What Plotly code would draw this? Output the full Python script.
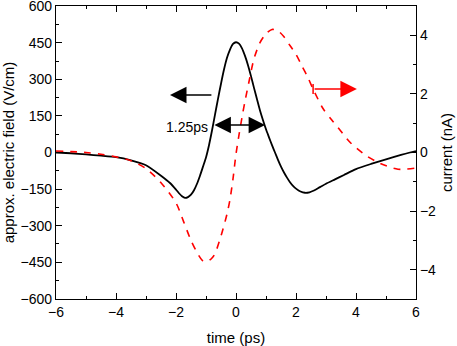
import plotly.graph_objects as go

# Electric field (black, left axis)
t_field = [-6.0, -5.5, -5.0, -4.5, -4.0, -3.5, -3.0, -2.5, -2.2, -2.0, -1.9, -1.8, -1.7, -1.6,
           -1.5, -1.4, -1.3, -1.2, -1.1, -1.0, -0.9, -0.8, -0.7, -0.6, -0.5, -0.4, -0.3, -0.2,
           -0.1, 0.0, 0.1, 0.2, 0.3, 0.4, 0.5, 0.6, 0.7, 0.8, 0.9, 1.0, 1.1, 1.2, 1.3, 1.4,
           1.5, 1.6, 1.7, 1.8, 1.9, 2.0, 2.15, 2.3, 2.45, 2.6, 2.8, 3.0, 3.3, 3.6, 4.0, 4.5,
           5.0, 5.5, 5.8, 6.0]
field = [0, -3, -8, -13, -19, -32, -52, -95, -125, -152, -167, -179, -186, -183,
         -173, -155, -128, -95, -58, -20, 30, 90, 155, 220, 282, 340, 388, 422,
         445, 452, 446, 427, 396, 358, 313, 265, 218, 172, 132, 95, 62, 30, 0, -30,
         -58, -82, -103, -122, -137, -148, -160, -165, -163, -156, -142, -128, -110, -92, -68, -47,
         -28, -10, 0, 6]

# Current (red dashed, right axis)
t_current = [-6.0, -5.5, -5.0, -4.5, -4.0, -3.5, -3.0, -2.5, -2.0, -1.75, -1.5, -1.25, -1.1,
             -0.95, -0.8, -0.7, -0.5, -0.3, -0.2, -0.1, 0.0, 0.1, 0.2, 0.3, 0.45, 0.6, 0.8,
             1.0, 1.2, 1.4, 1.6, 1.8, 2.0, 2.2, 2.4, 2.6, 2.9, 3.2, 3.4, 3.8, 4.3, 4.8,
             5.4, 6.0]
current = [0.05, 0.03, 0.0, -0.06, -0.15, -0.28, -0.55, -1.03, -1.72, -2.35, -3.0, -3.5, -3.7,
           -3.72, -3.6, -3.45, -2.85, -2.1, -1.6, -0.9, -0.05, 0.6, 1.2, 1.75, 2.5, 3.2, 3.75,
           4.05, 4.2, 4.15, 3.95, 3.65, 3.35, 2.95, 2.55, 2.1, 1.5, 1.1, 0.85, 0.35, -0.08, -0.37,
           -0.57, -0.53]

x_ticks = [-6, -4, -2, 0, 2, 4, 6]
y_ticks = [-600, -450, -300, -150, 0, 150, 300, 450, 600]
y2_ticks = [-4, -2, 0, 2, 4]

FONT = "Liberation Sans, Arial, sans-serif"

fig = go.Figure()
fig.add_trace(go.Scatter(x=t_field, y=field, mode="lines",
                         line=dict(color="black", width=1.8, shape="spline", smoothing=0.6),
                         showlegend=False, yaxis="y"))
fig.add_trace(go.Scatter(x=t_current, y=current, mode="lines",
                         line=dict(color="#ff0000", width=1.6, dash="7px,7px", shape="spline", smoothing=0.8),
                         showlegend=False, yaxis="y2"))

axis_common = dict(showline=True, linecolor="black", linewidth=1.3, ticks="inside", ticklen=6,
                   tickcolor="black", tickwidth=1.2, showgrid=False, zeroline=False, automargin=False,
                   ticklabeloverflow="allow",
                   tickfont=dict(size=14, family=FONT, color="black"))

fig.update_layout(
    width=457, height=346,
    margin=dict(l=56, r=41, t=6, b=47),
    paper_bgcolor="white", plot_bgcolor="white",
    font=dict(family=FONT, color="black"),
    xaxis=dict(range=[-6, 6], tickvals=x_ticks, mirror="ticks",
               minor=dict(dtick=1, ticklen=3, ticks="inside", tickcolor="black", showgrid=False),
               title=dict(text="time (ps)", font=dict(size=15), standoff=14),
               **axis_common),
    yaxis=dict(range=[-600.5, 600.5], tickvals=y_ticks,
               minor=dict(dtick=75, ticklen=3, ticks="inside", tickcolor="black", showgrid=False),
               title=dict(text="approx. electric field (V/cm)", font=dict(size=15), standoff=2),
               **axis_common),
    yaxis2=dict(range=[-5, 5], tickvals=y2_ticks, overlaying="y", side="right",
                minor=dict(dtick=1, ticklen=3, ticks="inside", tickcolor="black", showgrid=False),
                title=dict(text="current (nA)", font=dict(size=15), standoff=6),
                **axis_common),
)

# Annotations: arrows and label
fig.add_annotation(x=-2.2, y=236, ax=-0.77, ay=236, xref="x", yref="y", axref="x", ayref="y",
                   showarrow=True, arrowhead=2, arrowsize=2.2, arrowwidth=1.5, arrowcolor="black", text="")
fig.add_annotation(x=0.97, y=113, ax=-0.77, ay=113, xref="x", yref="y", axref="x", ayref="y",
                   showarrow=True, arrowhead=2, arrowside="end+start", startarrowhead=2,
                   arrowsize=2.2, startarrowsize=2.2, arrowwidth=1.5, arrowcolor="black", text="")
fig.add_annotation(x=-0.88, y=103, xref="x", yref="y", text="1.25ps", showarrow=False,
                   xanchor="right", yanchor="middle", font=dict(size=14, family=FONT, color="black"))
fig.add_annotation(x=4.03, y=2.17, ax=2.57, ay=2.17, xref="x", yref="y2", axref="x", ayref="y2",
                   showarrow=True, arrowhead=2, arrowsize=2.2, arrowwidth=1.5, arrowcolor="#ff0000", text="")
fig.add_shape(type="line", x0=2.57, x1=2.57, y0=2.0, y1=2.34, xref="x", yref="y2",
              line=dict(color="#ff0000", width=1.5))

fig.write_html("out.html", config={"displayModeBar": False},
               post_script="document.body.style.margin='0';document.body.style.overflow='hidden';")
